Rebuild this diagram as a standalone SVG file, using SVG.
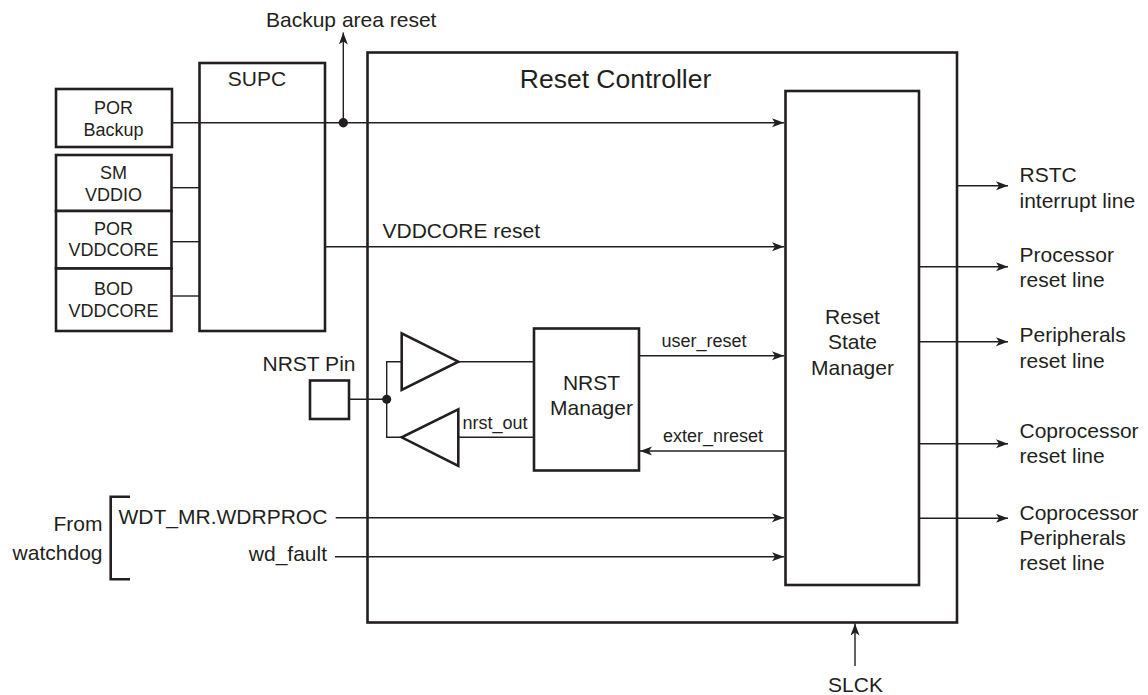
<svg xmlns="http://www.w3.org/2000/svg" width="1148" height="695" viewBox="0 0 1148 695">
<defs>
<marker id="ah" markerWidth="13" markerHeight="10" refX="12" refY="4.5" orient="auto" markerUnits="userSpaceOnUse">
<path d="M0,0 L12,4.5 L0,9 L3,4.5 z" fill="#231f20"/>
</marker>
</defs>
<style>
.box{fill:#fff;stroke:#231f20;stroke-width:2.6}
.ln{fill:none;stroke:#231f20;stroke-width:1.4}
.ar{fill:none;stroke:#231f20;stroke-width:1.4;marker-end:url(#ah)}
text{font-family:"Liberation Sans",Arial,sans-serif;fill:#231f20;font-size:21px}
.s{font-size:18px}
.m{text-anchor:middle}
.e{text-anchor:end}
</style>
<rect width="1148" height="695" fill="#fff"/>
<g id="reset-controller">
<rect class="box" x="367.5" y="52.5" width="589.5" height="570"/>
<text class="m" x="615.5" y="87.5" style="font-size:26.5px">Reset Controller</text>
</g>
<g id="supc">
<rect class="box" x="199.5" y="63" width="125.5" height="268"/>
<text class="m" x="257" y="86">SUPC</text>
</g>
<g id="por-backup">
<rect class="box" x="56" y="89" width="116" height="58"/>
<text class="m s" x="113.5" y="113.5">POR</text>
<text class="m s" x="113.5" y="136">Backup</text>
</g>
<g id="sm-vddio">
<rect class="box" x="56" y="155" width="115.5" height="56"/>
<text class="m s" x="113.5" y="179">SM</text>
<text class="m s" x="113.5" y="201">VDDIO</text>
</g>
<g id="por-vddcore">
<rect class="box" x="56" y="211" width="115.5" height="57.5"/>
<text class="m s" x="113.5" y="234.5">POR</text>
<text class="m s" x="113.5" y="256">VDDCORE</text>
</g>
<g id="bod-vddcore">
<rect class="box" x="56" y="268.5" width="115.5" height="62.5"/>
<text class="m s" x="113.5" y="295">BOD</text>
<text class="m s" x="113.5" y="317">VDDCORE</text>
</g>
<g id="reset-state-manager">
<rect class="box" x="785.5" y="91" width="133.5" height="494"/>
<text class="m" x="852.5" y="323.5">Reset</text>
<text class="m" x="852.5" y="349">State</text>
<text class="m" x="852.5" y="374.5">Manager</text>
</g>
<g id="nrst-manager">
<rect class="box" x="534" y="328.5" width="105" height="142"/>
<text class="m" x="591.5" y="390">NRST</text>
<text class="m" x="591.5" y="415">Manager</text>
</g>
<g id="nrst-pin">
<rect class="box" x="310" y="380.5" width="39" height="38.5"/>
<text x="262.5" y="370.5">NRST Pin</text>
</g>
<g id="input-buffer">
<polygon class="box" points="401.7,333.3 401.7,390 458.3,361.7"/>
</g>
<g id="output-buffer">
<polygon class="box" points="458.3,409.3 458.3,466 401.7,437.3"/>
</g>
<g id="watchdog">
<path d="M130,496.7 H110.7 V579.3 H130" fill="none" stroke="#231f20" stroke-width="2.6"/>
<text class="e" x="102.5" y="531">From</text>
<text class="e" x="102.5" y="559.5">watchdog</text>
<text x="118.5" y="523.5">WDT_MR.WDRPROC</text>
<text class="e" x="327" y="561">wd_fault</text>
</g>
<g id="outputs">
<text x="1019.5" y="181.5">RSTC</text>
<text x="1019.5" y="207.5">interrupt line</text>
<text x="1019.5" y="262">Processor</text>
<text x="1019.5" y="287">reset line</text>
<text x="1019.5" y="342">Peripherals</text>
<text x="1019.5" y="367.5">reset line</text>
<text x="1019.5" y="437.5">Coprocessor</text>
<text x="1019.5" y="463">reset line</text>
<text x="1019.5" y="519.5">Coprocessor</text>
<text x="1019.5" y="544.5">Peripherals</text>
<text x="1019.5" y="569.5">reset line</text>
</g>
<g id="connectors">
<line class="ar" x1="171" y1="122.7" x2="784" y2="122.7"/>
<line class="ar" x1="343.3" y1="122.7" x2="343.3" y2="32.5"/>
<circle cx="343.3" cy="122.7" r="4.7" fill="#231f20"/>
<text x="266" y="27">Backup area reset</text>
<line class="ln" x1="171.5" y1="187.7" x2="199.5" y2="187.7"/>
<line class="ln" x1="171.5" y1="241.7" x2="199.5" y2="241.7"/>
<line class="ln" x1="171.5" y1="296" x2="199.5" y2="296"/>
<line class="ar" x1="325" y1="246.7" x2="784" y2="246.7"/>
<text x="382.5" y="237.5">VDDCORE reset</text>
<line class="ln" x1="349" y1="399.3" x2="386.7" y2="399.3"/>
<path class="ln" d="M401.7,361.7 H386.7 V437.3 H401.7"/>
<circle cx="386.7" cy="399.3" r="4.5" fill="#231f20"/>
<line class="ln" x1="458.3" y1="361.7" x2="534" y2="361.7"/>
<line class="ln" x1="458.3" y1="437.3" x2="534" y2="437.3"/>
<text class="s" x="462.5" y="428.5">nrst_out</text>
<line class="ar" x1="639" y1="355.7" x2="784" y2="355.7"/>
<text class="s" x="661.5" y="346.5">user_reset</text>
<line class="ar" x1="785" y1="451" x2="640" y2="451"/>
<text class="s" x="663" y="441.5">exter_nreset</text>
<line class="ar" x1="335.7" y1="517.7" x2="784" y2="517.7"/>
<line class="ar" x1="335" y1="556.7" x2="784" y2="556.7"/>
<line class="ar" x1="957" y1="185.7" x2="1008" y2="185.7"/>
<line class="ar" x1="919" y1="266.7" x2="1008" y2="266.7"/>
<line class="ar" x1="919" y1="341.7" x2="1008" y2="341.7"/>
<line class="ar" x1="919" y1="443.7" x2="1008" y2="443.7"/>
<line class="ar" x1="919" y1="518.3" x2="1008" y2="518.3"/>
<line class="ar" x1="855" y1="666" x2="855" y2="623.5"/>
<text class="m" x="855.5" y="691.5">SLCK</text>
</g>
</svg>
